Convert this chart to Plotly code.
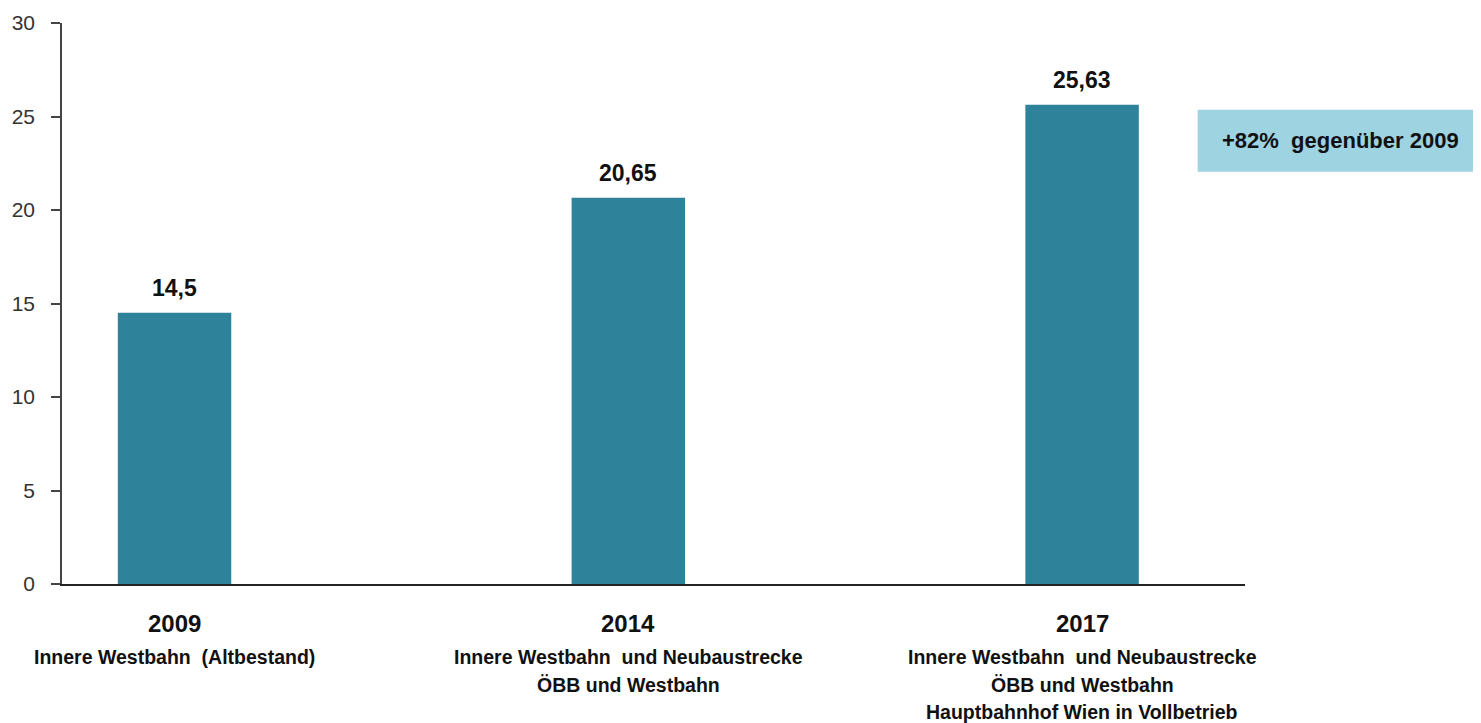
import plotly.graph_objects as go

years = ["2009", "2014", "2017"]
values = [14.5, 20.65, 25.63]
subtitles = [
    ["Innere Westbahn  (Altbestand)"],
    ["Innere Westbahn  und Neubaustrecke", "ÖBB und Westbahn"],
    ["Innere Westbahn  und Neubaustrecke", "ÖBB und Westbahn", "Hauptbahnhof Wien in Vollbetrieb"],
]
y_ticks = [0, 5, 10, 15, 20, 25, 30]
callout_text = "+82%  gegenüber 2009"

FONT = "Liberation Sans, Arial, sans-serif"
BAR_COLOR = "#2E8299"
BOX_COLOR = "#9ED3E1"
TEXT = "#111111"

xpos = list(range(len(years)))

fig = go.Figure()
fig.add_trace(go.Bar(
    x=xpos, y=values, width=0.25,
    marker=dict(color=BAR_COLOR, line=dict(width=0)),
    hoverinfo="skip",
))

# value labels above bars
for i, v in enumerate(values):
    fig.add_annotation(x=i, y=v, xref="x", yref="y",
                       text="<b>%s</b>" % str(v).replace(".", ","),
                       showarrow=False, yanchor="middle", yshift=25,
                       font=dict(family=FONT, size=23, color=TEXT))

# category labels
for i, (yr, sub) in enumerate(zip(years, subtitles)):
    fig.add_annotation(x=i, y=0, xref="x", yref="y", text="<b>%s</b>" % yr,
                       showarrow=False, yanchor="middle", yshift=-39,
                       font=dict(family=FONT, size=24, color=TEXT))
    for k, line in enumerate(sub):
        fig.add_annotation(x=i, y=0, xref="x", yref="y", text="<b>%s</b>" % line,
                           showarrow=False, yanchor="middle", yshift=-73 - 27.5 * k,
                           font=dict(family=FONT, size=19.5, color=TEXT))

# callout box
fig.add_shape(type="rect", xref="paper", yref="y", x0=0.960, x1=1.3, y0=22.05, y1=25.36,
              fillcolor=BOX_COLOR, line=dict(width=0), layer="below")
fig.add_annotation(xref="paper", yref="y", x=0.979, y=23.7, text="<b>%s</b>" % callout_text,
                   showarrow=False, xanchor="left", yanchor="middle",
                   font=dict(family=FONT, size=22, color=TEXT))

fig.update_layout(
    width=1473, height=715,
    margin=dict(l=54, r=236, t=15, b=139),
    paper_bgcolor="white", plot_bgcolor="white",
    showlegend=False,
    font=dict(family=FONT),
)
fig.update_xaxes(range=[-0.248, 2.359], showticklabels=False, showgrid=False, zeroline=False,
                 showline=True, linecolor="#222222", linewidth=2, ticks="", automargin=False)
fig.update_yaxes(range=[0, 30], tickvals=y_ticks, showgrid=False, zeroline=False,
                 showline=True, linecolor="#444444", linewidth=1.5,
                 ticks="outside", ticklen=9, tickcolor="#444444", tickwidth=1.5,
                 ticklabelstandoff=12, automargin=False,
                 tickfont=dict(family=FONT, size=21, color="#333333"))

fig.write_html("out.html")
